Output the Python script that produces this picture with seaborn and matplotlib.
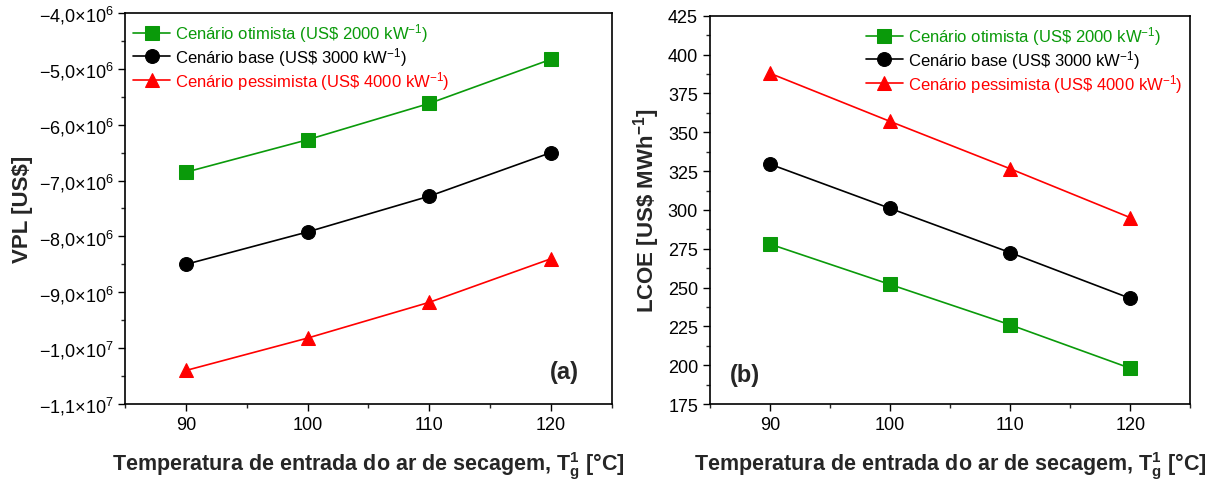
import numpy as np
import pandas as pd
import matplotlib
matplotlib.use("Agg")
import matplotlib.pyplot as plt
from matplotlib.ticker import FuncFormatter, MultipleLocator
import seaborn as sns

# ---- data ----
temperatures = [90, 100, 110, 120]
scenario_labels = [
    r"Cenário otimista (US\$ 2000 kW$^{\mathregular{-1}}$)",
    r"Cenário base (US\$ 3000 kW$^{\mathregular{-1}}$)",
    r"Cenário pessimista (US\$ 4000 kW$^{\mathregular{-1}}$)",
]
vpl_otimista = [-6.85e6, -6.27e6, -5.62e6, -4.83e6]
vpl_base = [-8.50e6, -7.92e6, -7.28e6, -6.50e6]
vpl_pessimista = [-10.40e6, -9.82e6, -9.18e6, -8.40e6]
lcoe_otimista = [278.0, 252.0, 226.0, 198.0]
lcoe_base = [329.5, 301.0, 272.5, 243.0]
lcoe_pessimista = [388.0, 357.0, 326.5, 295.0]

colors = ["#0a9a0a", "#000000", "#ff0000"]
markers = ["s", "o", "^"]

sns.set_theme(style="white")
plt.rcParams["font.family"] = ["Liberation Sans", "DejaVu Sans"]
plt.rcParams["mathtext.fontset"] = "custom"
plt.rcParams["mathtext.rm"] = "Liberation Sans"
plt.rcParams["mathtext.it"] = "Liberation Sans:italic"
plt.rcParams["mathtext.bf"] = "Liberation Sans:bold"
plt.rcParams["axes.unicode_minus"] = True

fig = plt.figure(figsize=(12.26, 4.81), dpi=100)
ax1 = fig.add_axes([0.102, 0.158, 0.397, 0.813])
ax2 = fig.add_axes([0.579, 0.158, 0.392, 0.807])


def plot_series(ax, series):
    for vals, lab, c, m in zip(series, scenario_labels, colors, markers):
        df = pd.DataFrame({"T": temperatures, "v": vals})
        sns.lineplot(data=df, x="T", y="v", ax=ax, color=c, marker=m,
                     markersize=10, markeredgecolor=c, linewidth=1.2,
                     label=lab)


plot_series(ax1, [vpl_otimista, vpl_base, vpl_pessimista])
plot_series(ax2, [lcoe_otimista, lcoe_base, lcoe_pessimista])


def sci_fmt(v, pos):
    if v == 0:
        return "0"
    e = int(np.floor(np.log10(abs(v)) + 1e-9))
    m = v / 10 ** e
    s = f"{abs(m):.1f}".replace(".", "{,}")
    sign = "\u2212" if m < 0 else ""
    return sign + "$" + s + r"{\times}10^{" + str(e) + "}$"


for ax in (ax1, ax2):
    ax.set_xlim(85, 125)
    ax.xaxis.set_major_locator(MultipleLocator(10))
    ax.xaxis.set_minor_locator(MultipleLocator(5))
    ax.tick_params(axis="both", which="major", direction="out", length=5,
                   width=1, labelsize=13, bottom=True, left=True,
                   top=False, right=False, colors="black")
    ax.tick_params(axis="both", which="minor", direction="out", length=3,
                   width=1, bottom=True, left=True, top=False, right=False)
    for sp in ax.spines.values():
        sp.set_color("black")
        sp.set_linewidth(1.2)
    ax.set_xlabel(r"Temperatura de entrada do ar de secagem, $\mathbf{T_g^1}$ [°C]",
                  fontsize=15.5, fontweight="bold", labelpad=12)
    ax.grid(False)

ax1.set_ylim(-1.1e7, -4.0e6)
ax1.yaxis.set_major_locator(MultipleLocator(1e6))
ax1.yaxis.set_minor_locator(MultipleLocator(5e5))
ax1.yaxis.set_major_formatter(FuncFormatter(sci_fmt))
ax1.set_ylabel("VPL [US$]", fontsize=16, fontweight="bold", labelpad=4)

ax2.set_ylim(175, 425)
ax2.yaxis.set_major_locator(MultipleLocator(25))
ax2.yaxis.set_minor_locator(MultipleLocator(12.5))
ax2.set_ylabel(r"LCOE [US\$ MWh$^{\mathbf{-1}}$]", fontsize=16,
               fontweight="bold", labelpad=4)

leg1 = ax1.legend(loc="upper left", frameon=False, fontsize=12,
                  handlelength=2.2, handletextpad=0.3, labelspacing=0.05,
                  borderaxespad=0.1)
leg2 = ax2.legend(loc="upper right", frameon=False, fontsize=12,
                  handlelength=2.2, handletextpad=0.3, labelspacing=0.05,
                  borderaxespad=0.1)
for leg in (leg1, leg2):
    for txt, c in zip(leg.get_texts(), colors):
        txt.set_color(c)

ax1.text(0.932, 0.082, "(a)", transform=ax1.transAxes, fontsize=17,
         fontweight="bold", ha="right", va="center")
ax2.text(0.042, 0.075, "(b)", transform=ax2.transAxes, fontsize=17,
         fontweight="bold", ha="left", va="center")

fig.savefig("out.png", dpi=100)
